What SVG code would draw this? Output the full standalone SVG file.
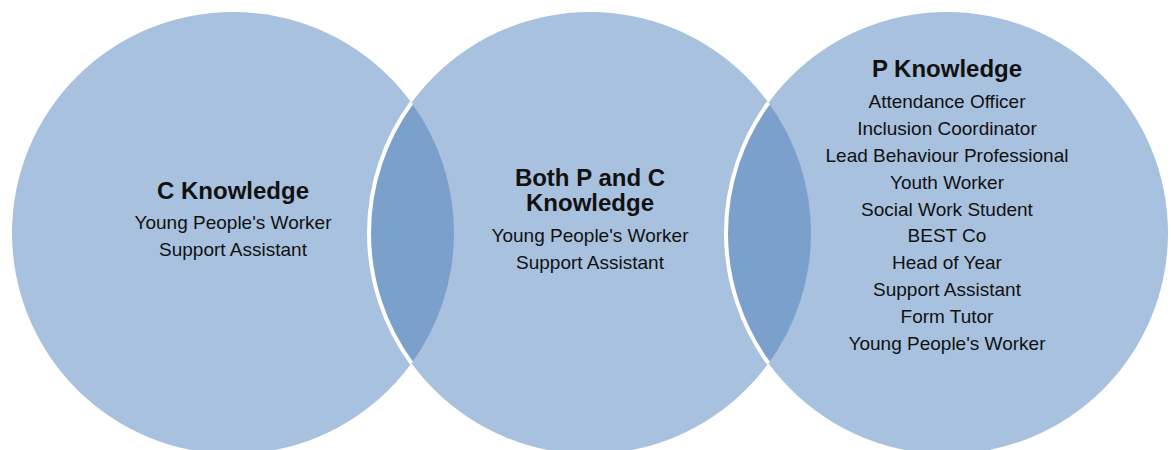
<svg xmlns="http://www.w3.org/2000/svg" width="1171" height="450" viewBox="0 0 1171 450">
<style>
.c{fill:#A8C1DF}
.lens{fill:#7CA0CC}
.edge{fill:none;stroke:#FFFFFF;stroke-width:4}
text{font-family:"Liberation Sans",Arial,sans-serif;fill:#111111;text-anchor:middle}
.t{font-size:24px;font-weight:bold}
.b{font-size:19px}
</style>
<rect width="1171" height="450" fill="#FFFFFF"/>
<g id="circle-c">
<circle class="c" cx="233" cy="233" r="221"/>
</g>
<g id="circle-both">
<circle class="c" cx="590" cy="233" r="221"/>
</g>
<g id="circle-p">
<circle class="c" cx="947" cy="233" r="221"/>
</g>
<g id="overlaps">
<path class="lens" d="M411.5 102.7 A221 221 0 0 1 411.5 363.3 A221 221 0 0 1 411.5 102.7 Z"/>
<path class="lens" d="M768.5 102.7 A221 221 0 0 1 768.5 363.3 A221 221 0 0 1 768.5 102.7 Z"/>
<path class="edge" d="M411.5 363.3 A221 221 0 0 1 411.5 102.7"/>
<path class="edge" d="M768.5 363.3 A221 221 0 0 1 768.5 102.7"/>
</g>
<g id="label-c">
<text class="t" x="233" y="199">C Knowledge</text>
<text class="b" x="233" y="229">Young People's Worker</text>
<text class="b" x="233" y="256">Support Assistant</text>
</g>
<g id="label-both">
<text class="t" x="590" y="186">Both P and C</text>
<text class="t" x="590" y="211">Knowledge</text>
<text class="b" x="590" y="242">Young People's Worker</text>
<text class="b" x="590" y="269">Support Assistant</text>
</g>
<g id="label-p">
<text class="t" x="947" y="77">P Knowledge</text>
<text class="b" x="947" y="108">Attendance Officer</text>
<text class="b" x="947" y="135">Inclusion Coordinator</text>
<text class="b" x="947" y="162">Lead Behaviour Professional</text>
<text class="b" x="947" y="188.5">Youth Worker</text>
<text class="b" x="947" y="215.5">Social Work Student</text>
<text class="b" x="947" y="242">BEST Co</text>
<text class="b" x="947" y="269">Head of Year</text>
<text class="b" x="947" y="296">Support Assistant</text>
<text class="b" x="947" y="323">Form Tutor</text>
<text class="b" x="947" y="349.5">Young People's Worker</text>
</g>
</svg>
